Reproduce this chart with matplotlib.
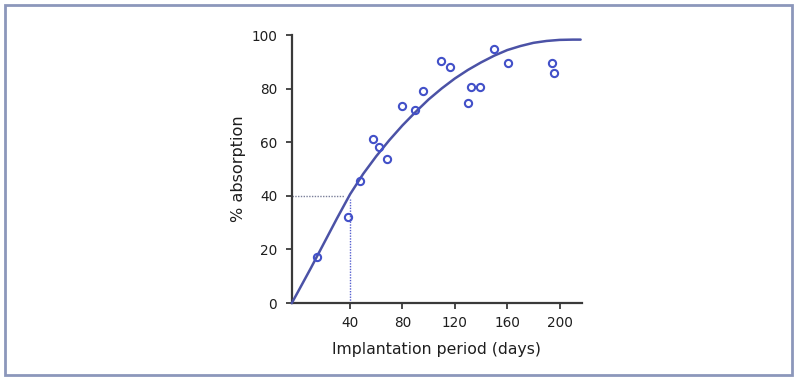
import numpy as np
import matplotlib
matplotlib.use("Agg")
import matplotlib.pyplot as plt
import matplotlib.patches as patches

# measured absorption points (days, %)
days = [15.0, 38.7, 47.6, 57.3, 62.4, 68.5, 80.0, 89.7, 96.0, 109.3,
        116.4, 129.9, 132.0, 138.9, 149.6, 160.3, 194.1, 195.4]
absorption = [17.1, 32.0, 45.5, 61.4, 58.3, 53.8, 73.5, 72.0, 79.0, 90.2,
              88.1, 74.8, 80.5, 80.5, 94.7, 89.7, 89.7, 85.7]

# fitted curve (starts at the axis corner)
fit_days = [-4.5, 0, 10, 20, 30, 40, 50, 60, 70, 80, 90, 100, 110, 120, 130,
            140, 150, 160, 170, 180, 190, 200, 210, 216]
fit_abs = [0, 4.0, 13.0, 22.3, 31.6, 40.6, 48.2, 54.8, 60.8, 66.3, 71.3, 76.0,
           80.1, 83.8, 87.0, 89.8, 92.3, 94.4, 95.9, 97.1, 97.8, 98.2,
           98.3, 98.3]

x_ticks = [40, 80, 120, 160, 200]
y_ticks = [0, 20, 40, 60, 80, 100]
ref_day = 40
ref_abs = 40

plt.rcParams['font.family'] = ['DejaVu Sans']

fig = plt.figure(figsize=(7.95, 3.77), dpi=100)
ax = fig.add_axes([0.367, 0.196, 0.365, 0.711])

ax.plot(fit_days, fit_abs, color='#4b52a6', lw=1.8, solid_capstyle='round',
        solid_joinstyle='round', clip_on=False, zorder=3)
ax.plot(days, absorption, 'o', mfc='none', mec='#4250c8', mew=1.5, ms=5.2,
        clip_on=False, zorder=4)

# guide lines at 40 days / 40 %
ax.plot([-4.5, 35.5], [ref_abs, ref_abs], ls=(0, (1, 1)), color='#7a7f99',
        lw=1.0, zorder=2)
ax.plot([ref_day, ref_day], [0, 39], ls=(0, (1, 1)), color='#5560d0',
        lw=1.0, zorder=2)

ax.set_xlim(-4.5, 217)
ax.set_ylim(0, 100)
ax.set_xticks(x_ticks)
ax.set_yticks(y_ticks)

for s in ['top', 'right']:
    ax.spines[s].set_visible(False)
for s in ['left', 'bottom']:
    ax.spines[s].set_linewidth(1.6)
    ax.spines[s].set_color('#3a3a3a')

ax.tick_params(direction='out', length=4.5, width=1.3, color='#3a3a3a',
               labelsize=9.8, labelcolor='#1e1e1e')
ax.tick_params(axis='y', pad=6)
ax.tick_params(axis='x', pad=4.5)

ax.set_xlabel("Implantation period (days)", fontsize=11.3, color='#1e1e1e',
              labelpad=9)
ax.set_ylabel("% absorption", fontsize=11.6, color='#1e1e1e', labelpad=4)

# frame round the figure
fig.patches.append(patches.Rectangle(
    (0.006, 0.006), 0.99, 0.981, transform=fig.transFigure,
    fill=False, edgecolor='#8c97bb', linewidth=2.0))

fig.savefig("out.png", dpi=100)
